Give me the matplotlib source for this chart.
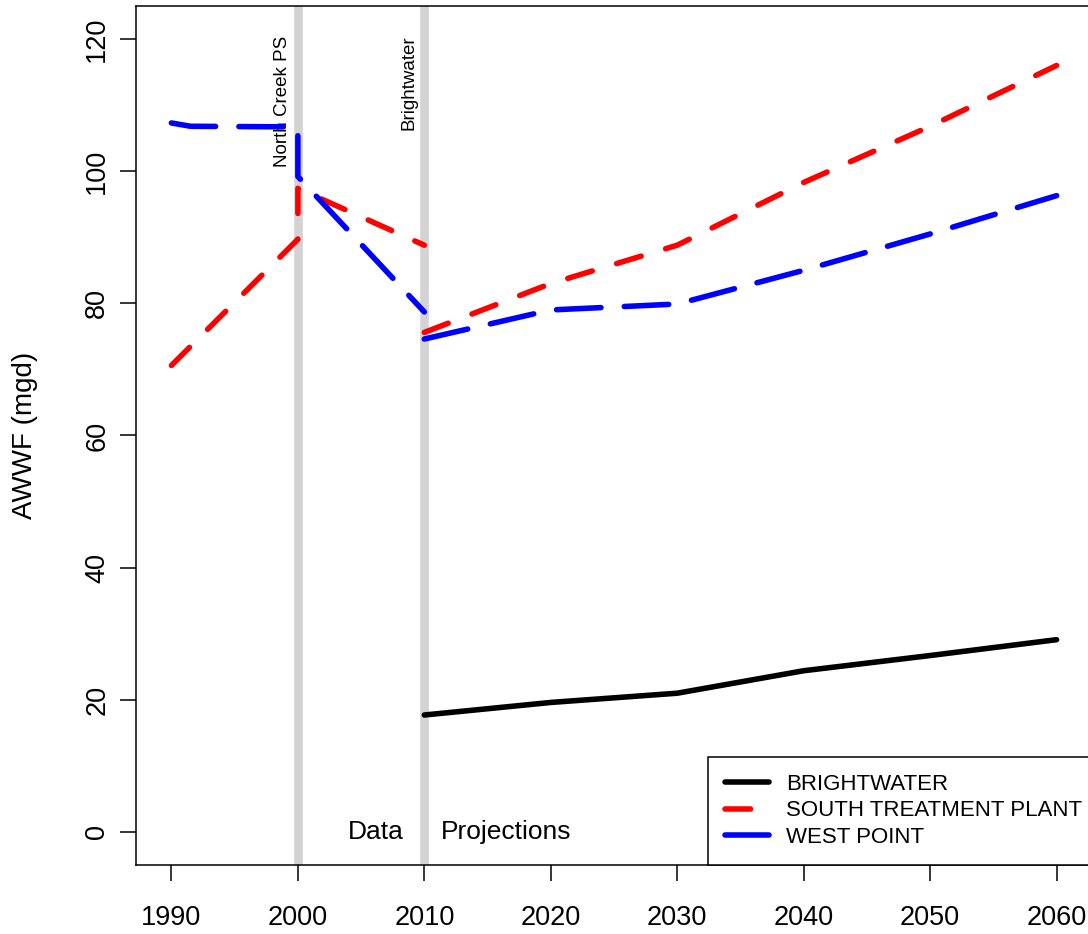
import numpy as np
import matplotlib
matplotlib.use("Agg")
import matplotlib.pyplot as plt

plt.rcParams['font.family'] = ['Liberation Sans', 'DejaVu Sans']

# historic data (two points at 2000 where North Creek PS came online)
wp_hist_years = [1990, 1991.5, 2000, 2000, 2010]
wp_hist_flow = [107.3, 106.8, 106.7, 99.2, 78.7]
stp_hist_years = [1990, 2000, 2000, 2010]
stp_hist_flow = [70.6, 89.7, 97.4, 88.8]

# projections
proj_years = [2010, 2020, 2030, 2040, 2050, 2060]
bw_proj = [17.7, 19.6, 21.0, 24.4, 26.7, 29.1]
stp_proj = [75.6, 83.0, 88.8, 98.3, 106.8, 116.0]
wp_proj = [74.6, 79.0, 79.9, 85.0, 90.5, 96.3]

labels = ['BRIGHTWATER', 'SOUTH TREATMENT PLANT', 'WEST POINT']
events = [(2000, 'North Creek PS'), (2010, 'Brightwater')]

x_ticks = np.arange(1990, 2061, 10)
y_ticks = np.arange(0, 121, 20)

lw = 4.0
red_ls = (0, (4.6, 4.6))
blue_ls = (0, (8.0, 4.2))

fig = plt.figure(figsize=(10.88, 9.34), dpi=100)
ax = fig.add_axes([136 / 1088, 69 / 934, 956 / 1088, 859 / 934])

# event markers
for yr, name in events:
    ax.axvline(yr, color='#D3D3D3', linewidth=6.2, zorder=1)
    ax.text(yr - 1.2, 120.5, name, rotation=90, ha='center', va='top', fontsize=13.5)

ax.plot(proj_years, bw_proj, color='black', linewidth=lw, solid_capstyle='round',
        label=labels[0], zorder=3)
ax.plot(stp_hist_years, stp_hist_flow, color='red', linewidth=lw, linestyle=red_ls,
        dash_capstyle='round', zorder=3)
ax.plot(proj_years, stp_proj, color='red', linewidth=lw, linestyle=red_ls,
        dash_capstyle='round', label=labels[1], zorder=3)
ax.plot(wp_hist_years, wp_hist_flow, color='blue', linewidth=lw, linestyle=blue_ls,
        dash_capstyle='round', zorder=3)
ax.plot(proj_years, wp_proj, color='blue', linewidth=lw, linestyle=blue_ls,
        dash_capstyle='round', label=labels[2], zorder=3)

ax.text(2006.2, 0, 'Data', ha='center', va='center', fontsize=19)
ax.text(2016.5, 0, 'Projections', ha='center', va='center', fontsize=19)

ax.set_xlim(1987.2, 2062.8)
ax.set_ylim(-5, 125)
ax.set_xticks(x_ticks)
ax.set_yticks(y_ticks)
ax.tick_params(axis='both', length=11.5, width=1.1, labelsize=19.5, color='black')
ax.tick_params(axis='x', pad=17)
ax.tick_params(axis='y', pad=7)
for lab in ax.get_yticklabels():
    lab.set_rotation(90)
    lab.set_va('center')
    lab.set_ha('right')
for sp in ax.spines.values():
    sp.set_linewidth(1.1)
ax.set_ylabel('AWWF (mgd)', fontsize=20, labelpad=33)

leg = ax.legend(loc='lower right', bbox_to_anchor=(1.0075, 0.0), borderaxespad=0,
                fontsize=16, handlelength=1.95, handletextpad=0.77, borderpad=0.78,
                labelspacing=0.24, fancybox=False, framealpha=1, edgecolor='black')
leg.get_frame().set_linewidth(1.1)

fig.savefig('out.png', dpi=100)
